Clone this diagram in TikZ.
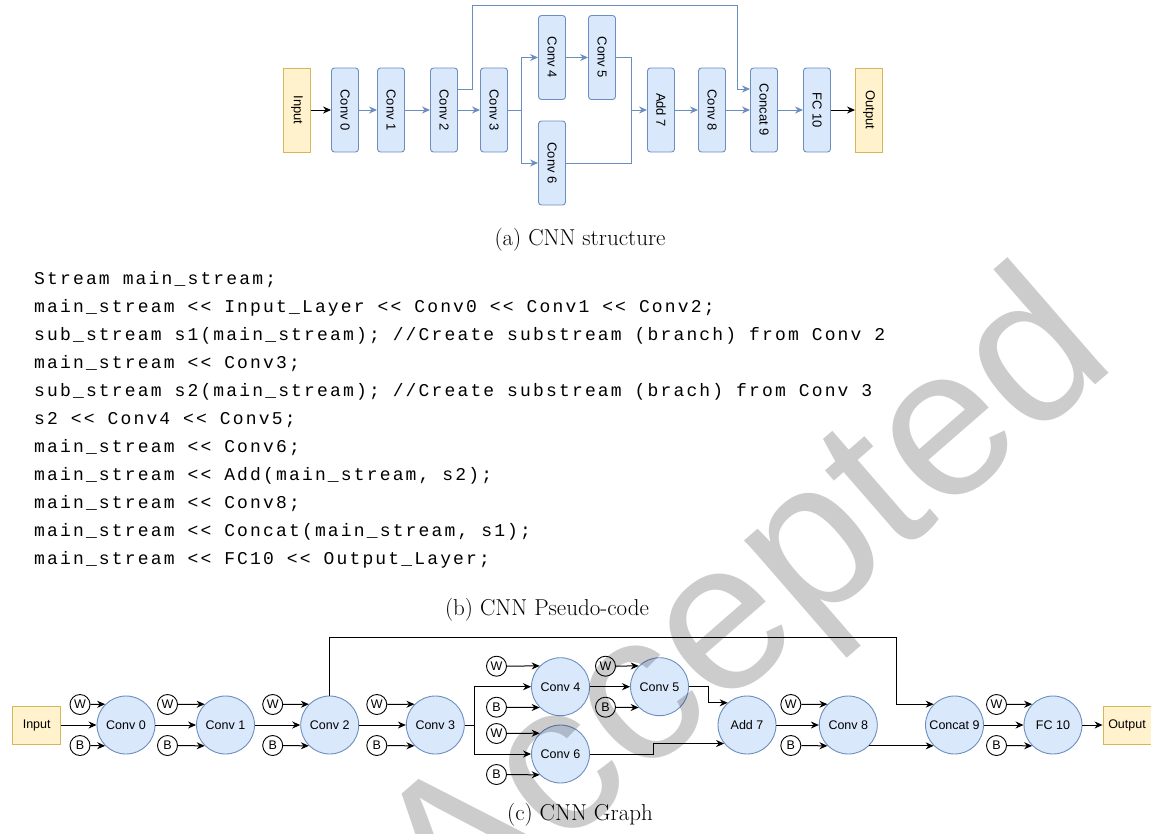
\documentclass[tikz,border=0pt]{standalone}
\usepackage{fontspec}
\newfontfamily\diafont{Liberation Sans}
\newfontfamily\codefont[LetterSpace=12]{Liberation Mono}
\usetikzlibrary{arrows.meta,positioning,calc}
\definecolor{layerblue}{HTML}{6C8EBF}
\definecolor{layerfill}{HTML}{DAE8FC}
\definecolor{ioline}{HTML}{D6B656}
\definecolor{iofill}{HTML}{FFF2CC}
\newcommand{\vlabel}[1]{\rotatebox{-90}{#1}}
\tikzset{
  layer/.style={draw=layerblue, fill=layerfill, rounded corners=3pt, line width=0.9pt,
    minimum width=27pt, minimum height=84pt, inner sep=0pt,
    font=\diafont\fontsize{13}{13}\selectfont},
  iobox/.style={layer, draw=ioline, fill=iofill, sharp corners},
  wire/.style={layerblue, line width=1pt},
  flow/.style={wire, -{Stealth[length=8pt,width=7pt]}},
  opnode/.style={circle, draw=layerblue, fill=layerfill, line width=0.9pt,
    minimum size=58pt, inner sep=0pt, font=\diafont\fontsize{12.5}{12.5}\selectfont},
  gio/.style={draw=ioline, fill=iofill, line width=0.9pt, minimum width=48pt,
    minimum height=38pt, inner sep=0pt, font=\diafont\fontsize{12.5}{12.5}\selectfont},
  param/.style={circle, draw, fill=white, line width=0.9pt, minimum size=20pt,
    inner sep=0pt, font=\diafont\fontsize{12.5}{12.5}\selectfont},
  link/.style={black, line width=1pt, -{Stealth[length=8pt,width=7pt]}},
  capt/.style={inner sep=0pt, font=\fontsize{23}{26}\selectfont},
  codeline/.style={anchor=west, inner sep=0pt, font=\codefont\fontsize{18}{18}\selectfont},
  stamp/.style={inner sep=0pt, text=black, text opacity=0.2,
    font=\diafont\fontsize{212}{212}\selectfont}
}
% weight and bias inputs of one graph node
\newcommand{\wbinputs}[2]{%
  \node[param] (#1w) at ($(#1)+(-#2,-20.5)$) {W};
  \node[param] (#1b) at ($(#1)+(-#2,20.5)$) {B};
  \draw[link] (#1w) -- (#1.135);
  \draw[link] (#1b) -- (#1.225);
}
\frenchspacing

\begin{document}
\begin{tikzpicture}[x=1pt,y=-1pt]
  \useasboundingbox (0,0) rectangle (1151,833);

  % (a) structure
  \node[iobox] (inA) at (297,110) {\vlabel{Input}};
  \node[layer] (c0) at (345,110) {\vlabel{Conv 0}};
  \node[layer] (c1) at (391,110) {\vlabel{Conv 1}};
  \node[layer] (c2) at (444,110) {\vlabel{Conv 2}};
  \node[layer] (c3) at (494,110) {\vlabel{Conv 3}};
  \node[layer] (c4) at (552,57.5) {\vlabel{Conv 4}};
  \node[layer] (c5) at (602,57.5) {\vlabel{Conv 5}};
  \node[layer] (c6) at (552,163) {\vlabel{Conv 6}};
  \node[layer] (add7) at (661,110) {\vlabel{Add 7}};
  \node[layer] (c8) at (712,110) {\vlabel{Conv 8}};
  \node[layer] (cat9) at (764,110) {\vlabel{Concat 9}};
  \node[layer] (fc10) at (817,110) {\vlabel{FC 10}};
  \node[iobox] (outA) at (869,110) {\vlabel{Output}};
  \coordinate (brn) at (521.7,110);
  \coordinate (mrg) at (631,110);
  \coordinate (skip) at (472,5);

  \draw[link] (inA) -- (c0);
  \draw[flow] (c0) -- (c1);
  \draw[flow] (c1) -- (c2);
  \draw[flow] (c2) -- (c3);
  \draw[flow] ($(c2.east)+(0,-21)$) -| (skip) -| ($(cat9.west)+(-13,-21)$) -- ($(cat9.west)+(0,-21)$);
  \draw[flow] (c3.east) -- (brn) |- (c4.west);
  \draw[flow] (brn) |- (c6.west);
  \draw[flow] (c4) -- (c5);
  \draw[flow] (c5.east) -| (mrg) -- (add7.west);
  \draw[wire] (c6.east) -| (mrg);
  \draw[flow] (add7) -- (c8);
  \draw[flow] (c8) -- (cat9);
  \draw[flow] (cat9) -- (fc10);
  \draw[link] (fc10) -- (outA);
  \node[capt] (captA) at (580,240) {(a) CNN structure};

  % (b) pseudo-code
  \node[codeline] (l1) at (34,280) {Stream main\_stream;};
  \node[codeline] (l2) at (34,308) {main\_stream <{}< Input\_Layer <{}< Conv0 <{}< Conv1 <{}< Conv2;};
  \node[codeline] (l3) at (34,336) {sub\_stream s1(main\_stream); //Create substream (branch) from Conv 2};
  \node[codeline] (l4) at (34,364) {main\_stream <{}< Conv3;};
  \node[codeline] (l5) at (34,392) {sub\_stream s2(main\_stream); //Create substream (brach) from Conv 3};
  \node[codeline] (l6) at (34,420) {s2 <{}< Conv4 <{}< Conv5;};
  \node[codeline] (l7) at (34,448) {main\_stream <{}< Conv6;};
  \node[codeline] (l8) at (34,476) {main\_stream <{}< Add(main\_stream, s2);};
  \node[codeline] (l9) at (34,504) {main\_stream <{}< Conv8;};
  \node[codeline] (l10) at (34,532) {main\_stream <{}< Concat(main\_stream, s1);};
  \node[codeline] (l11) at (34,560) {main\_stream <{}< FC10 <{}< Output\_Layer;};
  \node[capt] (captB) at (547,610) {(b) CNN Pseudo-code};

  % (c) graph
  \node[gio] (gin) at (36.7,725) {Input};
  \node[opnode] (g0) at (126,725) {Conv 0};
  \node[opnode] (g1) at (225.5,725) {Conv 1};
  \node[opnode] (g2) at (329.7,725) {Conv 2};
  \node[opnode] (g3) at (435.3,725) {Conv 3};
  \node[opnode] (g4) at (560.5,686.7) {Conv 4};
  \node[opnode] (g5) at (659.5,686.7) {Conv 5};
  \node[opnode] (g6) at (560.5,754) {Conv 6};
  \node[opnode] (g7) at (747,725) {Add 7};
  \node[opnode] (g8) at (848.3,725) {Conv 8};
  \node[opnode] (g9) at (954.5,725) {Concat 9};
  \node[opnode] (g10) at (1053,725) {FC 10};
  \node[gio] (gout) at (1127,725) {Output};
  \coordinate (gtop) at (896.7,637);
  \coordinate (gsplit) at (474.3,725);
  \coordinate (gj5) at (708.3,686.7);
  \coordinate (gj6) at (653.3,754);

  \wbinputs{g0}{46}
  \wbinputs{g1}{58}
  \wbinputs{g2}{57}
  \wbinputs{g3}{58.5}
  \wbinputs{g4}{64}
  \wbinputs{g5}{54}
  \wbinputs{g6}{64}
  \wbinputs{g8}{57.5}
  \wbinputs{g10}{56.5}

  \draw[link] (gin) -- (g0);
  \draw[link] (g0) -- (g1);
  \draw[link] (g1) -- (g2);
  \draw[link] (g2) -- (g3);
  \draw[link] (g2.north) |- (gtop) |- (g9.135);
  \draw[link] (g3.east) -- (gsplit) |- (g4);
  \draw[link] (gsplit) |- (g6);
  \draw[link] (g4) -- (g5);
  \draw[link] (g5.east) -- (gj5) |- (g7.131);
  \draw[link] (g6.east) -- (gj6) |- (g7.219);
  \draw[link] (g7) -- (g8);
  \draw[link] (g8.315) -- (g9.225);
  \draw[link] (g9) -- (g10);
  \draw[link] (g10) -- (gout);
  \node[capt] (captC) at (580,815) {(c) CNN Graph};

  % watermark
  \node[stamp, rotate=41, anchor=base west] (wm) at (452,944) {Accepted};
\end{tikzpicture}
\end{document}
